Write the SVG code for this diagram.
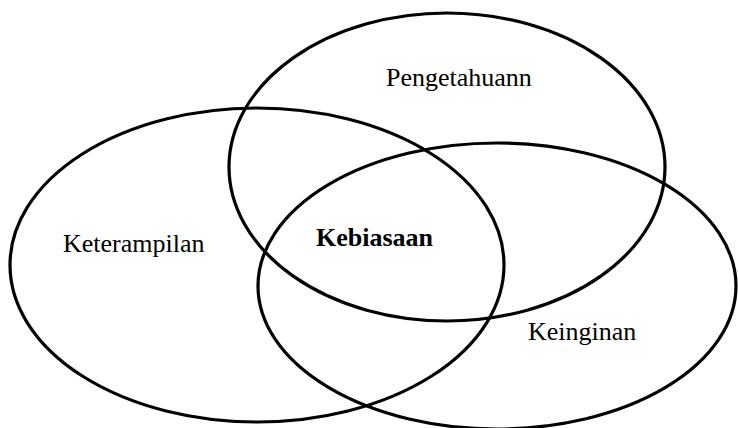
<svg xmlns="http://www.w3.org/2000/svg" width="738" height="428" viewBox="0 0 738 428">
<style>
.c{fill:none;stroke:#000;stroke-width:3.2}
.t{font-family:"Liberation Serif","Times New Roman",serif;font-size:26px;fill:#000}
.b{font-weight:bold}
</style>
<rect width="738" height="428" fill="#fff"/>
<g id="pengetahuan">
<ellipse class="c" cx="447" cy="167" rx="218" ry="154"/>
<text class="t" x="386" y="86">Pengetahuann</text>
</g>
<g id="keterampilan">
<ellipse class="c" cx="257" cy="265" rx="247" ry="157"/>
<text class="t" x="63" y="252">Keterampilan</text>
</g>
<g id="keinginan">
<ellipse class="c" cx="497" cy="286" rx="239" ry="143"/>
<text class="t" x="528" y="340">Keinginan</text>
</g>
<g id="kebiasaan">
<text class="t b" x="316" y="246">Kebiasaan</text>
</g>
<g id="connectors"/>
</svg>
